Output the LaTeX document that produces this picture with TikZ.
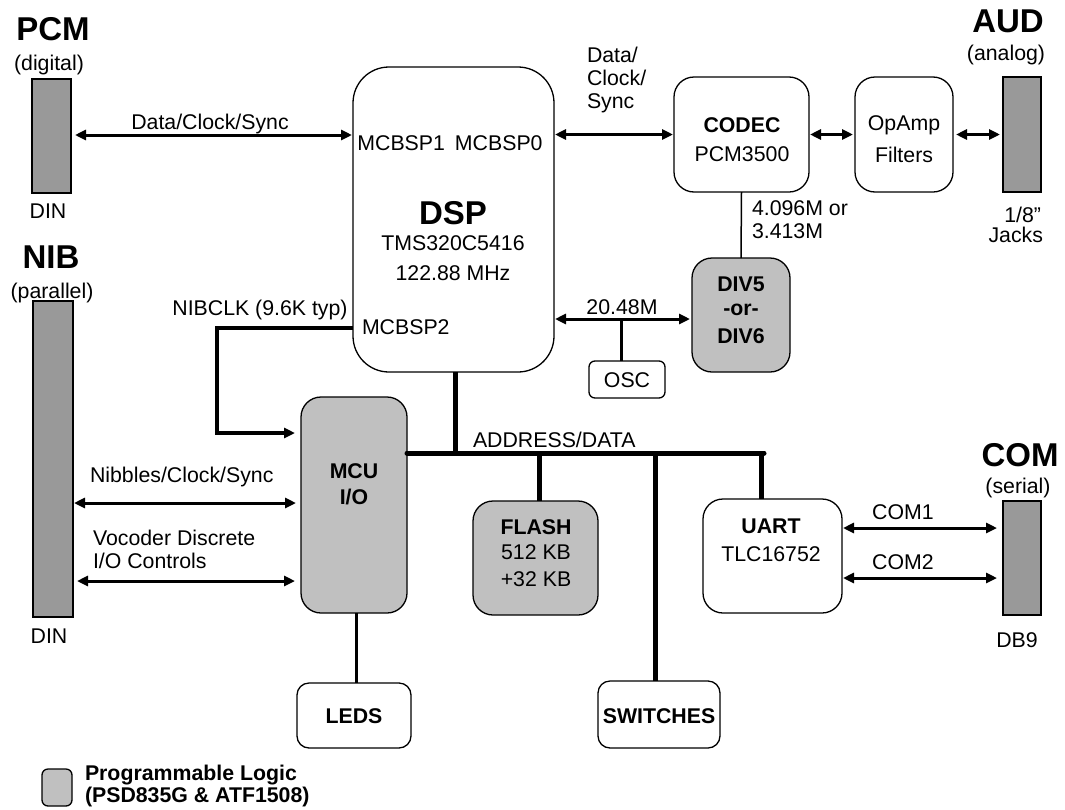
\documentclass[tikz,border=0pt]{standalone}
\usepackage{fontspec}
\setmainfont{Liberation Sans}
\usetikzlibrary{arrows.meta}
\definecolor{plgray}{HTML}{C0C0C0}
\definecolor{congray}{HTML}{999999}
\begin{document}
\begin{tikzpicture}[x=1pt,y=-1pt,
  txt/.style={inner sep=0pt, outer sep=0pt, font=\fontsize{21.3}{23}\selectfont},
  btxt/.style={inner sep=0pt, outer sep=0pt, font=\fontsize{21.3}{23}\selectfont\bfseries},
  ttl/.style={inner sep=0pt, outer sep=0pt, font=\fontsize{33}{36}\selectfont\bfseries},
  blk/.style={draw, line width=1.3pt, rounded corners=20pt, inner sep=0pt, outer sep=0pt, fill=white},
  plb/.style={blk, fill=plgray},
  conn/.style={draw, line width=1.4pt, fill=congray, inner sep=0pt, outer sep=0pt},
  biarr/.style={line width=3pt, {Triangle[length=11pt,width=10pt]}-{Triangle[length=11pt,width=10pt]}},
  onearr/.style={line width=3.5pt, -{Triangle[length=11pt,width=10pt]}},
  bus/.style={line width=5pt},
  wire/.style={line width=3pt}]
\useasboundingbox (0,0) rectangle (1065,809);

% connectors (external)
\node[conn, minimum width=39pt, minimum height=114pt] (pcm) at (51.5,136) {};
\node[conn, minimum width=40pt, minimum height=316pt] (nib) at (53,459) {};
\node[conn, minimum width=38pt, minimum height=115pt] (aud) at (1022,134.5) {};
\node[conn, minimum width=38pt, minimum height=114pt] (com) at (1022,558) {};

% titles
\node[ttl] (tpcm) at (53,29) {PCM};
\node[txt] (spcm) at (49,65) {(digital)};
\node[txt] (dpcm) at (48,211) {DIN};
\node[ttl] (tnib) at (51,257) {NIB};
\node[txt] (snib) at (52,293) {(parallel)};
\node[txt] (dnib) at (49,636) {DIN};
\node[ttl] (taud) at (1008,21) {AUD};
\node[txt] (saud) at (1006,55) {(analog)};
\node[txt, anchor=east] (jaud1) at (1041,215) {1/8”};
\node[txt, anchor=east] (jaud2) at (1043,235) {Jacks};
\node[ttl] (tcom) at (1020,455) {COM};
\node[txt] (scom) at (1018,488) {(serial)};
\node[txt] (dcom) at (1017,640) {DB9};

% blocks
\node[blk, rounded corners=36pt, minimum width=201pt, minimum height=305pt] (dsp) at (453.5,219.5) {};
\node[blk, minimum width=135pt, minimum height=115pt] (codec) at (741.5,134.5) {};
\node[blk, minimum width=98pt, minimum height=115pt] (opamp) at (904,134.5) {};
\node[plb, minimum width=98pt, minimum height=114pt] (div) at (741,315) {};
\node[blk, rounded corners=6pt, minimum width=76pt, minimum height=37pt] (osc) at (627,379.5) {};
\node[plb, minimum width=106pt, minimum height=216pt] (mcu) at (354,505) {};
\node[plb, minimum width=125pt, minimum height=114pt] (flash) at (535.5,558) {};
\node[blk, minimum width=139pt, minimum height=114pt] (uart) at (772.5,556) {};
\node[blk, rounded corners=12pt, minimum width=114pt, minimum height=65pt] (leds) at (354,715.5) {};
\node[blk, rounded corners=12pt, minimum width=122pt, minimum height=67pt] (switches) at (659,714.5) {};

% block texts
\node[txt] (mcbsp10) at (450,143) {MCBSP1\hspace{10pt}MCBSP0};
\node[ttl] (dsptitle) at (453,213) {DSP};
\node[txt] (dspchip) at (453,243) {TMS320C5416};
\node[txt] (dspclk) at (453,273) {122.88 MHz};
\node[txt, anchor=west] (mcbsp2) at (362,327) {MCBSP2};
\node[btxt] (codect) at (742,125) {CODEC};
\node[txt] (codecc) at (742,154) {PCM3500};
\node[txt] (opampt) at (904,125) {OpAmp};
\node[txt] (opampc) at (904,155) {Filters};
\node[btxt] (divt1) at (741,284) {DIV5};
\node[btxt] (divt2) at (741,310) {-or-};
\node[btxt] (divt3) at (741,336) {DIV6};
\node[txt] (osct) at (627,380) {OSC};
\node[btxt] (mcut1) at (354,471) {MCU};
\node[btxt] (mcut2) at (354,497) {I/O};
\node[btxt] (flasht) at (536,527) {FLASH};
\node[txt] (flash1) at (536,552) {512 KB};
\node[txt] (flash2) at (536,579) {+32 KB};
\node[btxt] (uartt) at (771,526) {UART};
\node[txt] (uartc) at (771,554) {TLC16752};
\node[btxt] (ledst) at (354,716) {LEDS};
\node[btxt] (swt) at (659,716) {SWITCHES};

% connector labels
\node[txt] (lpcm) at (210,124) {Data/Clock/Sync};
\node[txt, anchor=north west, align=left] (lcodec) at (587,47) {Data/\\Clock/\\Sync};
\node[txt, anchor=north west, align=left] (ldiv) at (752,201) {4.096M or\\3.413M};
\node[txt] (l2048) at (622,307) {20.48M};
\node[txt] (lnibclk) at (260,310) {NIBCLK (9.6K typ)};
\node[txt, anchor=west] (lnibbles) at (90,477) {Nibbles/Clock/Sync};
\node[txt, anchor=north west, align=left] (lvoc) at (93,530) {Vocoder Discrete\\I/O Controls};
\node[txt, anchor=west] (laddr) at (473,440) {ADDRESS/DATA};
\node[txt] (lcom1) at (903,512) {COM1};
\node[txt] (lcom2) at (903,562) {COM2};

% arrows
\draw[biarr, shorten <=4pt, shorten >=1pt] (pcm.east |- 0,135) -- (dsp.west |- 0,135);
\draw[biarr, shorten <=1pt, shorten >=1pt] (dsp.east |- codec.west) -- (codec.west);
\draw[biarr, shorten <=1pt, shorten >=2pt] (codec.east) -- (opamp.west);
\draw[biarr, shorten <=3pt, shorten >=3pt] (opamp.east) -- (aud.west);
\draw[line width=1.5pt] (codec.south) -- (div.north);
\coordinate (osctap) at (621,319);
\draw[biarr, shorten <=1pt, shorten >=2pt] (dsp.east |- osctap) -- (div.west |- osctap);
\draw[wire] (osctap) -- (osctap |- osc.north);
\coordinate (nbk) at (217,328);
\draw[onearr, shorten >=6pt] (dsp.west |- nbk) -- (nbk) -- (217,433) -- (mcu.west |- 0,433);
\draw[biarr, shorten <=1pt, shorten >=5pt] (nib.east |- 0,503) -- (mcu.west |- 0,503);
\draw[biarr, shorten <=4pt, shorten >=6pt] (nib.east |- 0,581) -- (mcu.west |- 0,581);
\draw[biarr, shorten <=1pt, shorten >=6pt] (uart.east |- 0,528) -- (com.west |- 0,528);
\draw[biarr, shorten <=1pt, shorten >=6pt] (uart.east |- 0,578) -- (com.west |- 0,578);

% bus
\coordinate (busend) at (764,453);
\draw[bus, line cap=round] (mcu.east |- busend) -- (busend);
\draw[bus] (dsp.south -| 455,0) -- (455,453);
\draw[bus] (539,453) -- (flash.north -| 539,0);
\draw[bus] (655,453) -- (switches.north -| 655,0);
\draw[bus] (761,453) -- (uart.north -| 761,0);
\draw[wire] (mcu.south -| 356,0) -- (leds.north -| 356,0);

% legend
\node[plb, rounded corners=6pt, minimum width=30pt, minimum height=37pt] (legbox) at (57,787.5) {};
\node[btxt, anchor=west] (leg1) at (85,775) {Programmable Logic};
\node[btxt, anchor=west] (leg2) at (85,797) {(PSD835G \& ATF1508)};
\end{tikzpicture}
\end{document}
